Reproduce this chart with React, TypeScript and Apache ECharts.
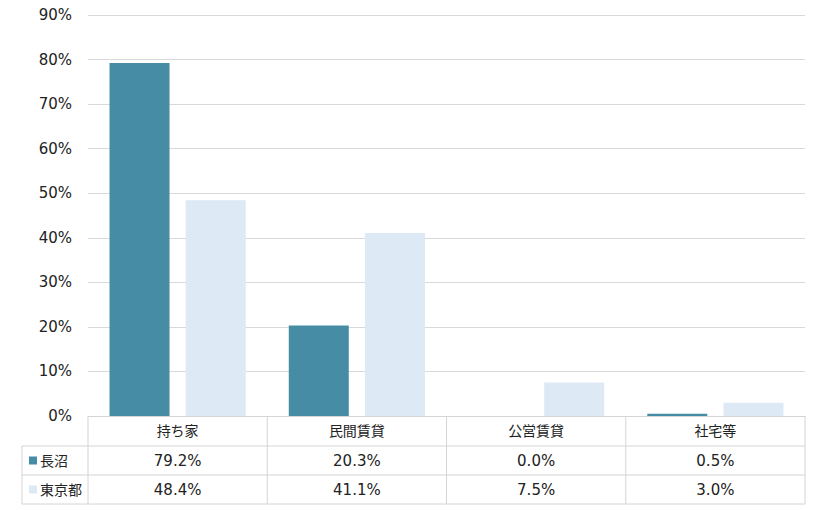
import { useEffect, useRef } from 'react'
import * as echarts from 'echarts'

const categories = ['持ち家', '民間賃貸', '公営賃貸', '社宅等']
const seriesNames = ['長沼', '東京都']
const naganuma = [79.2, 20.3, 0.0, 0.5]
const tokyo = [48.4, 41.1, 7.5, 3.0]
const colors = ['#468CA5', '#DDE9F5']

const FONT = '"DejaVu Sans", "Noto Sans CJK JP", sans-serif'

export default function App() {
  const chartRef = useRef<HTMLDivElement>(null)

  useEffect(() => {
    document.body.style.margin = '0'
    if (!chartRef.current) return
    const chart = echarts.init(chartRef.current, undefined, { renderer: 'svg' })

    // 表の位置
    const left = 88
    const right = 805
    const top = 416
    const rowH = [30, 29, 29]
    const legendLeft = 22
    const colW = (right - left) / categories.length
    const lineColor = '#d4d4d4'
    const y1 = top + rowH[0]
    const y2 = y1 + rowH[1]
    const y3 = y2 + rowH[2]

    const graphics: any[] = []
    // 横線
    ;[y1, y2, y3].forEach((y) => {
      graphics.push({
        type: 'line',
        shape: { x1: legendLeft, y1: y, x2: right, y2: y },
        style: { stroke: lineColor, lineWidth: 1 }
      })
    })
    // 縦線
    for (let i = 0; i <= categories.length; i++) {
      const x = left + colW * i
      graphics.push({
        type: 'line',
        shape: { x1: x, y1: top, x2: x, y2: y3 },
        style: { stroke: lineColor, lineWidth: 1 }
      })
    }
    graphics.push({
      type: 'line',
      shape: { x1: legendLeft, y1: y1, x2: legendLeft, y2: y3 },
      style: { stroke: lineColor, lineWidth: 1 }
    })

    const rows = [naganuma, tokyo]
    const rowCenters = [(y1 + y2) / 2, (y2 + y3) / 2]
    rows.forEach((vals, r) => {
      graphics.push({
        type: 'rect',
        shape: { x: 29, y: rowCenters[r] - 4, width: 8, height: 8 },
        style: { fill: colors[r] }
      })
      graphics.push({
        type: 'text',
        x: 40,
        y: rowCenters[r],
        style: {
          text: seriesNames[r],
          font: `14px ${FONT}`,
          fill: '#222',
          verticalAlign: 'middle',
          align: 'left'
        }
      })
      vals.forEach((v, i) => {
        graphics.push({
          type: 'text',
          x: left + colW * (i + 0.5),
          y: rowCenters[r],
          style: {
            text: v.toFixed(1) + '%',
            font: `15px ${FONT}`,
            fill: '#222',
            align: 'center',
            verticalAlign: 'middle'
          }
        })
      })
    })

    chart.setOption({
      animation: false,
      grid: { left: left, right: 820 - right, top: 15, bottom: 510 - top },
      xAxis: {
        type: 'category',
        data: categories,
        axisLine: { lineStyle: { color: lineColor } },
        axisTick: { show: false },
        axisLabel: {
          margin: 8,
          fontSize: 14,
          color: '#222',
          fontFamily: FONT
        }
      },
      yAxis: {
        type: 'value',
        min: 0,
        max: 90,
        interval: 10,
        axisLine: { show: false },
        axisTick: { show: false },
        splitLine: { lineStyle: { color: '#d9d9d9' } },
        axisLabel: {
          formatter: '{value}%',
          fontSize: 15,
          color: '#222',
          fontFamily: FONT,
          margin: 16
        }
      },
      series: [
        {
          name: seriesNames[0],
          type: 'bar',
          data: naganuma,
          barWidth: 60,
          barGap: '27%',
          itemStyle: { color: colors[0] }
        },
        {
          name: seriesNames[1],
          type: 'bar',
          data: tokyo,
          barWidth: 60,
          itemStyle: { color: colors[1] }
        }
      ],
      graphic: graphics
    })

    return () => {
      chart.dispose()
    }
  }, [])

  return <div ref={chartRef} style={{ width: '820px', height: '510px' }} />
}
